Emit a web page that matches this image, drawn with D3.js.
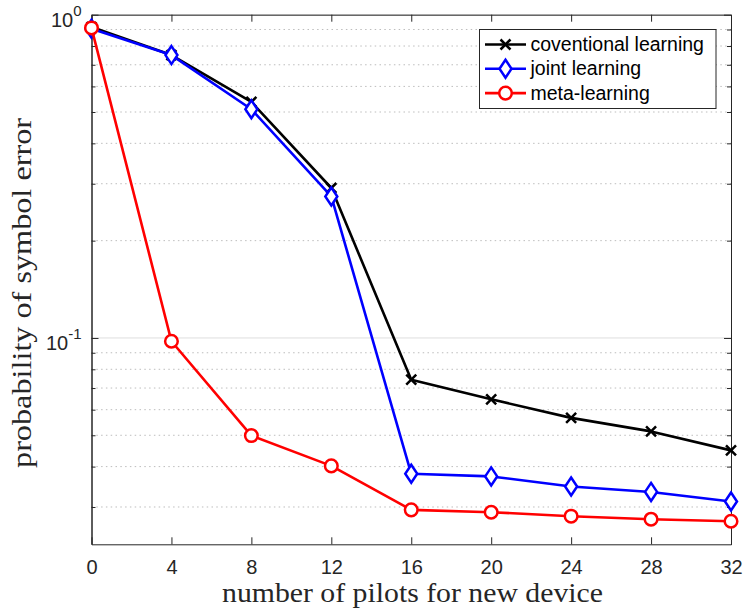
<!DOCTYPE html>
<html>
<head>
<meta charset="utf-8">
<script src="https://cdn.jsdelivr.net/npm/d3@7"></script>
<style>
  body { margin: 0; background: #fff; }
  svg { display: block; }
</style>
</head>
<body>
<svg id="chart" width="745" height="610"></svg>
<script>
// data
var pilots = [0, 4, 8, 12, 16, 20, 24, 28, 32];
var conventional = [0.916, 0.750, 0.537, 0.291, 0.0743, 0.0646, 0.0566, 0.0514, 0.0449];
var joint = [0.905, 0.750, 0.510, 0.274, 0.0380, 0.0373, 0.0347, 0.0334, 0.0312];
var meta = [0.910, 0.0977, 0.0499, 0.0402, 0.0294, 0.0289, 0.0281, 0.0275, 0.0271];
var seriesNames = ['coventional learning', 'joint learning', 'meta-learning'];
var xTicks = [0, 4, 8, 12, 16, 20, 24, 28, 32];
var yMajor = [1, 0.1];
var yMinor = [0.03, 0.04, 0.05, 0.06, 0.07, 0.08, 0.09, 0.2, 0.3, 0.4, 0.5, 0.6, 0.7, 0.8, 0.9];

var svg = d3.select('#chart');
var plotL = 91.5, plotR = 731, plotT = 14.7, plotB = 544.3;
var x = d3.scaleLinear().domain([0, 32]).range([plotL, plotR]);
var y = d3.scaleLog().domain([0.023, 1]).range([plotB, plotT]);

var sans = 'Liberation Sans, Helvetica, Arial, sans-serif';
var serif = 'Liberation Serif, Times New Roman, serif';
var axisColor = '#262626';

// grid
svg.append('g').selectAll('line').data(yMinor).enter().append('line')
  .attr('x1', plotL).attr('x2', plotR)
  .attr('y1', function(d) { return y(d); }).attr('y2', function(d) { return y(d); })
  .attr('stroke', '#bdbdbd').attr('stroke-width', 1).attr('stroke-dasharray', '1.5,3.3');
svg.append('g').selectAll('line').data(yMajor).enter().append('line')
  .attr('x1', plotL).attr('x2', plotR)
  .attr('y1', function(d) { return y(d); }).attr('y2', function(d) { return y(d); })
  .attr('stroke', '#dedede').attr('stroke-width', 1);

// axes, ticks pointing inward
var xAxisB = d3.axisBottom(x).tickValues(xTicks).tickSizeInner(-7).tickSizeOuter(0).tickPadding(16);
var xAxisT = d3.axisTop(x).tickValues(xTicks).tickSizeInner(-7).tickSizeOuter(0).tickFormat('');
var yAxisL = d3.axisLeft(y).tickValues(yMajor).tickSizeInner(-7).tickSizeOuter(0).tickFormat('');
var yAxisR = d3.axisRight(y).tickValues(yMajor).tickSizeInner(-7).tickSizeOuter(0).tickFormat('');
var yMinL = d3.axisLeft(y).tickValues(yMinor).tickSizeInner(-4).tickSizeOuter(0).tickFormat('');
var yMinR = d3.axisRight(y).tickValues(yMinor).tickSizeInner(-4).tickSizeOuter(0).tickFormat('');

function styleAxis(g) {
  g.selectAll('path').attr('stroke', axisColor).attr('stroke-width', 1);
  g.selectAll('line').attr('stroke', axisColor).attr('stroke-width', 1);
  g.selectAll('text').attr('fill', axisColor).style('font-family', sans).style('font-size', '20px');
}
svg.append('g').attr('transform', 'translate(0,' + plotB + ')').call(xAxisB).call(styleAxis);
svg.append('g').attr('transform', 'translate(0,' + plotT + ')').call(xAxisT).call(styleAxis);
svg.append('g').attr('transform', 'translate(' + plotL + ',0)').call(yAxisL).call(styleAxis);
svg.append('g').attr('transform', 'translate(' + plotR + ',0)').call(yAxisR).call(styleAxis);
svg.append('g').attr('transform', 'translate(' + plotL + ',0)').call(yMinL).call(styleAxis);
svg.append('g').attr('transform', 'translate(' + plotR + ',0)').call(yMinR).call(styleAxis);

// y tick labels 10^0, 10^-1
var yLab = svg.append('g').selectAll('text').data(yMajor).enter().append('text')
  .attr('x', plotL - 10).attr('y', function(d) { return y(d) + 12.5; })
  .attr('text-anchor', 'end').attr('fill', axisColor)
  .style('font-family', sans).style('font-size', '20px');
yLab.append('tspan').text('10');
yLab.append('tspan').attr('dy', -11).style('font-size', '15px')
  .text(function(d) { return Math.round(Math.log10(d)) === 0 ? '0' : '-1'; });

// axis titles
svg.append('text').attr('x', 412.5).attr('y', 602)
  .attr('text-anchor', 'middle').attr('fill', axisColor)
  .attr('textLength', 381).attr('lengthAdjust', 'spacingAndGlyphs')
  .style('font-family', serif).style('font-size', '27px')
  .text('number of pilots for new device');
svg.append('text').attr('transform', 'translate(31,293) rotate(-90)')
  .attr('text-anchor', 'middle').attr('fill', axisColor)
  .attr('textLength', 350).attr('lengthAdjust', 'spacingAndGlyphs')
  .style('font-family', serif).style('font-size', '27px')
  .text('probability of symbol error');

// series
var series = [
  { name: seriesNames[0], values: conventional, color: '#000000', marker: 'x' },
  { name: seriesNames[1], values: joint, color: '#0000ff', marker: 'd' },
  { name: seriesNames[2], values: meta, color: '#ff0000', marker: 'o' }
];
var line = d3.line().x(function(d) { return x(d[0]); }).y(function(d) { return y(d[1]); });

function drawMarker(g, kind, color) {
  if (kind === 'x') {
    g.append('path').attr('d', 'M-5,-5L5,5M-5,5L5,-5')
      .attr('stroke', color).attr('stroke-width', 2.5).attr('fill', 'none');
  } else if (kind === 'd') {
    g.append('path').attr('d', 'M0,-9L6,0L0,9L-6,0Z')
      .attr('stroke', color).attr('stroke-width', 2.5).attr('fill', '#fff');
  } else {
    g.append('circle').attr('r', 6.3)
      .attr('stroke', color).attr('stroke-width', 2.5).attr('fill', '#fff');
  }
}

series.forEach(function(s) {
  var pts = pilots.map(function(p, i) { return [p, s.values[i]]; });
  svg.append('path').datum(pts).attr('d', line)
    .attr('fill', 'none').attr('stroke', s.color).attr('stroke-width', 2.6)
    .attr('stroke-linejoin', 'round');
  svg.append('g').selectAll('g').data(pts).enter().append('g')
    .attr('transform', function(d) { return 'translate(' + x(d[0]) + ',' + y(d[1]) + ')'; })
    .each(function() { drawMarker(d3.select(this), s.marker, s.color); });
});

// legend
var legend = svg.append('g').attr('transform', 'translate(479.5,29.5)');
legend.append('rect').attr('width', 236.5).attr('height', 79)
  .attr('fill', '#fff').attr('stroke', axisColor).attr('stroke-width', 1);
series.forEach(function(s, i) {
  var row = legend.append('g').attr('transform', 'translate(0,' + (15 + i * 24.3) + ')');
  row.append('line').attr('x1', 5.5).attr('x2', 46.5).attr('y1', 0).attr('y2', 0)
    .attr('stroke', s.color).attr('stroke-width', 2.6);
  drawMarker(row.append('g').attr('transform', 'translate(26,0)'), s.marker, s.color);
  row.append('text').attr('x', 51).attr('y', 6.5).attr('fill', '#000')
    .style('font-family', sans).style('font-size', '19.5px').text(s.name);
});
</script>
</body>
</html>
